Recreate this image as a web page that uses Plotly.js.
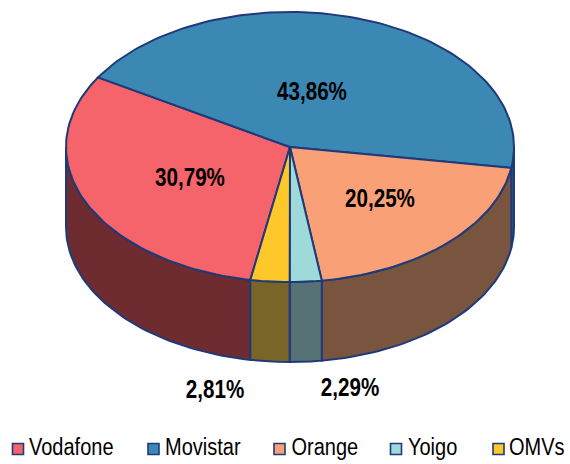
<!DOCTYPE html>
<html>
<head>
<meta charset="utf-8">
<script src="https://cdn.plot.ly/plotly-3.0.1.min.js"></script>
<style>html,body{margin:0;padding:0;background:#fff}#c{width:570px;height:464px}</style>
</head>
<body>
<div id="c"></div>
<script>
const operators = ['Vodafone', 'Movistar', 'Orange', 'Yoigo', 'OMVs'];
const shares = [30.79, 43.86, 20.25, 2.29, 2.81];
const shareLabels = ['30,79%', '43,86%', '20,25%', '2,29%', '2,81%'];
const topColors = ['#F4646A', '#3B88B5', '#F9A077', '#9FDADA', '#FFC82A'];
const sideColors = ['#6E2C31', '#2A5F80', '#79543F', '#567274', '#7A6528'];
const labelX = [190, 312, 380, 350, 215];
const labelY = [181, 95, 202, 391, 393];
const keyX = [18, 153.5, 279.5, 396, 498.5];
const keyY = 449;
const keyTextX = [29, 165, 291.5, 408, 509];
const keyTextY = 450.5;

const CX = 290, CY = 147, RX = 224, RY = 135, DEPTH = 80, START = 100.2;
const OUTLINE = '#1F3A7A';
const FONT = '"Liberation Sans",Arial,sans-serif';

function px(t) { return CX + RX * Math.cos(t * Math.PI / 180); }
function py(t, d) { return CY + RY * Math.sin(t * Math.PI / 180) + (d || 0); }
function arc(a, b) {
  const ts = [], n = Math.max(2, Math.ceil(Math.abs(b - a) / 1.5));
  for (let i = 0; i <= n; i++) ts.push(a + (b - a) * i / n);
  return ts;
}

const sides = [], tops = [];
let cur = START;
const total = shares.reduce((s, v) => s + v, 0);
shares.forEach((v, i) => {
  const a = cur, b = cur + v / total * 360;
  cur = b;
  [[a, b], [a - 360, b - 360], [a + 360, b + 360]].forEach(([p, q]) => {
    const s = Math.max(p, 0), e = Math.min(q, 180);
    if (e > s) {
      const ts = arc(s, e);
      const x = ts.map(t => px(t)).concat(ts.slice().reverse().map(t => px(t)));
      const y = ts.map(t => py(t)).concat(ts.slice().reverse().map(t => py(t, DEPTH)));
      x.push(x[0]); y.push(y[0]);
      sides.push({ type: 'scatter', mode: 'lines', x, y, fill: 'toself', fillcolor: sideColors[i],
        line: { color: OUTLINE, width: 2 }, hoverinfo: 'skip', showlegend: false });
    }
  });
  const ts = arc(a, b);
  const x = [CX].concat(ts.map(t => px(t)), [CX]);
  const y = [CY].concat(ts.map(t => py(t)), [CY]);
  tops.push({ type: 'scatter', mode: 'lines', x, y, fill: 'toself', fillcolor: topColors[i], name: operators[i],
    line: { color: OUTLINE, width: 2 }, hoverinfo: 'skip', showlegend: false });
});

const labels = {
  type: 'scatter', mode: 'text', x: labelX, y: labelY, text: shareLabels, textposition: 'middle center',
  textfont: { family: FONT, size: 20.6, color: '#000', weight: 700 }, hoverinfo: 'skip', showlegend: false
};
const keySwatches = {
  type: 'scatter', mode: 'markers', x: keyX, y: operators.map(() => keyY),
  marker: { symbol: 'square', size: 11, color: topColors, line: { color: OUTLINE, width: 1.6 } },
  hoverinfo: 'skip', showlegend: false
};
const keyNames = {
  type: 'scatter', mode: 'text', x: keyTextX, y: operators.map(() => keyTextY), text: operators,
  textposition: 'middle right',
  textfont: { family: FONT, size: 20, color: '#000' }, hoverinfo: 'skip', showlegend: false
};

const layout = {
  width: 570, height: 464, margin: { l: 0, r: 0, t: 0, b: 0 },
  paper_bgcolor: '#fff', plot_bgcolor: '#fff', hovermode: false, showlegend: false,
  xaxis: { range: [0, 570], visible: false, fixedrange: true },
  yaxis: { range: [464, 0], visible: false, fixedrange: true }
};

// The reference uses tall, condensed lettering: stretch each text upward from its baseline.
function condense() {
  document.querySelectorAll('#c .textpoint text').forEach(el => {
    const size = parseFloat(el.style.fontSize);
    const k = (size < 20.3 ? 23 : 25) / size;
    const y = parseFloat(el.getAttribute('y'));
    const old = el.getAttribute('transform') || '';
    el.setAttribute('transform', `${old} translate(0,${y}) scale(1,${k}) translate(0,${-y})`);
  });
}

Plotly.newPlot('c', sides.concat(tops, [labels, keySwatches, keyNames]), layout, { displayModeBar: false, staticPlot: true }).then(condense);
</script>
</body>
</html>
